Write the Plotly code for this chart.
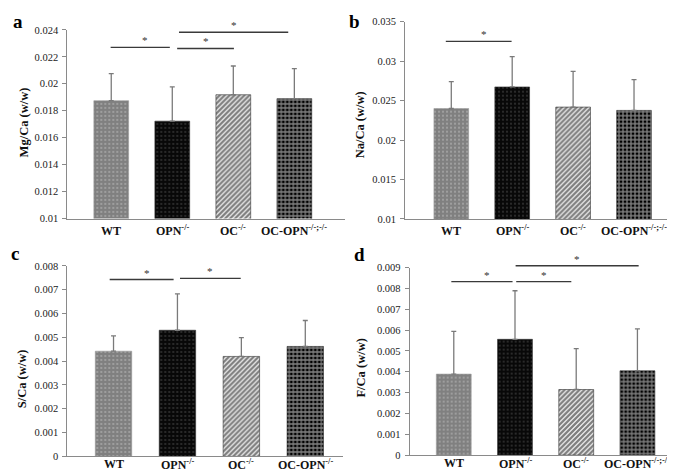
import plotly.graph_objects as go

W, H = 675, 472

categories_a = ["WT", "OPN<sup>-/-</sup>", "OC<sup>-/-</sup>", "OC-OPN<sup>-/-;-/-</sup>"]
categories_c = ["WT", "OPN<sup>-/-</sup>", "OC<sup>-/-</sup>", "OC-OPN<sup>-/-</sup>"]

mg_mean = [0.01875, 0.01723, 0.01919, 0.0189]
mg_sd = [0.0020, 0.00254, 0.00213, 0.00222]
na_mean = [0.0240, 0.02673, 0.02418, 0.02376]
na_sd = [0.0034, 0.00384, 0.00453, 0.0039]
s_mean = [0.00442, 0.0053, 0.0042, 0.00462]
s_sd = [0.00064, 0.00153, 0.00079, 0.00109]
f_mean = [0.00389, 0.00556, 0.00315, 0.00405]
f_sd = [0.00205, 0.00233, 0.00196, 0.00201]

ticks_a = [0.01, 0.012, 0.014, 0.016, 0.018, 0.02, 0.022, 0.024]
ticks_b = [0.01, 0.015, 0.02, 0.025, 0.03, 0.035]
ticks_c = [0, 0.001, 0.002, 0.003, 0.004, 0.005, 0.006, 0.007, 0.008]
ticks_d = [0, 0.001, 0.002, 0.003, 0.004, 0.005, 0.006, 0.007, 0.008, 0.009]

# significance brackets: (x from, x to, y level)
sig_a = [(-0.01, 0.96, 0.0227), (1.08, 2.01, 0.02262), (1.11, 2.9, 0.02383)]
sig_b = [(-0.09, 0.99, 0.0325)]
sig_c = [(-0.06, 0.94, 0.00743), (1.04, 1.99, 0.00748)]
sig_d = [(-0.04, 0.96, 0.00833), (1.02, 1.92, 0.00833), (1.01, 3.02, 0.00909)]

titles = ["Mg/Ca (w/w)", "Na/Ca (w/w)", "S/Ca (w/w)", "F/Ca (w/w)"]
letters = ["a", "b", "c", "d"]

# pixel layout of each panel: left, right, top, bottom
panels = [
    dict(l=59.3, r=337, t=17.3, b=210.5, xr=[-0.72, 3.83], yr=[0.01, 0.024]),
    dict(l=397, r=665, t=8.9, b=210.9, xr=[-0.76, 3.64], yr=[0.01, 0.035]),
    dict(l=59.3, r=335, t=259, b=454, xr=[-0.723, 3.59], yr=[0, 0.008]),
    dict(l=401.7, r=668, t=260.7, b=452.7, xr=[-0.72, 3.63], yr=[0, 0.009]),
]
means = [mg_mean, na_mean, s_mean, f_mean]
sds = [mg_sd, na_sd, s_sd, f_sd]
cats = [categories_a, categories_a, categories_c, categories_a]
tickvals = [ticks_a, ticks_b, ticks_c, ticks_d]
sigs = [sig_a, sig_b, sig_c, sig_d]
title_pos = [(16, 112), (352, 114), (14, 375), (353, 364)]
letter_pos = [(10, 9), (346, 9), (7, 246), (352, 247)]
catlabel_y = [223, 223, 462, 461]

patterns = [
    dict(shape=".", bgcolor="#808080", fgcolor="#d0d0d0", size=4, solidity=0.2),
    dict(shape=".", bgcolor="#080808", fgcolor="#5a5a5a", size=4, solidity=0.22),
    dict(shape="/", bgcolor="white", fgcolor="#000000", size=3.5, solidity=0.68),
    dict(shape="+", bgcolor="#000000", fgcolor="#ffffff", size=4, solidity=0.55),
]

def fmt(v):
    s = ("%.3f" % v).rstrip("0").rstrip(".")
    return s if s else "0"

fig = go.Figure()
layout = dict(width=W, height=H, margin=dict(l=0, r=0, t=0, b=0),
              paper_bgcolor="white", plot_bgcolor="white", showlegend=False,
              font=dict(family="Liberation Serif", color="#222", size=11))
annotations = []
shapes = []

for i, p in enumerate(panels):
    sfx = "" if i == 0 else str(i + 1)
    xa, ya = "x" + sfx, "y" + sfx
    for j in range(4):
        fig.add_trace(go.Bar(
            x=[j], y=[means[i][j]], xaxis=xa, yaxis=ya, width=0.57,
            marker=dict(color=patterns[j]["bgcolor"], pattern=patterns[j],
                        line=dict(width=0.6, color="#9a9a9a" if j == 0 else "#333")),
            error_y=dict(type="data", symmetric=False, array=[sds[i][j]], arrayminus=[0],
                         color="#7a7a7a", thickness=1.3, width=2.5),
        ))
        annotations.append(dict(xref=xa, yref="paper", x=j, y=1 - catlabel_y[i] / H,
                                text="<b>%s</b>" % cats[i][j], showarrow=False,
                                xanchor="center", yanchor="middle",
                                font=dict(family="Liberation Serif", size=12, color="#111")))
    dom_x = [p["l"] / W, p["r"] / W]
    dom_y = [1 - p["b"] / H, 1 - p["t"] / H]
    layout["xaxis" + sfx] = dict(
        domain=dom_x, range=p["xr"], anchor=ya, showticklabels=False,
        showline=True, linecolor="#8a8a8a", linewidth=1, ticks="", showgrid=False,
        zeroline=False, fixedrange=True)
    layout["yaxis" + sfx] = dict(
        domain=dom_y, range=p["yr"], anchor=xa, tickvals=tickvals[i],
        ticktext=[fmt(v) for v in tickvals[i]], showline=True, linecolor="#8a8a8a",
        linewidth=1, ticks="outside", ticklen=4, tickcolor="#8a8a8a", showgrid=False,
        zeroline=False, tickfont=dict(family="Liberation Serif", size=10.5, color="#222"),
        ticklabelstandoff=2, fixedrange=True)
    x0r, x1r = p["xr"]
    y0r, y1r = p["yr"]
    for (x0, x1, yv) in sigs[i]:
        fx0 = (x0 - x0r) / (x1r - x0r)
        fx1 = (x1 - x0r) / (x1r - x0r)
        fy = (yv - y0r) / (y1r - y0r)
        shapes.append(dict(type="line", xref=xa + " domain", yref=ya + " domain",
                           x0=fx0, x1=fx1, y0=fy, y1=fy,
                           line=dict(color="#3a3a3a", width=1.4)))
        annotations.append(dict(xref=xa + " domain", yref=ya + " domain",
                                x=(fx0 + fx1) / 2, y=fy, text="*",
                                showarrow=False, yanchor="bottom", yshift=-1,
                                font=dict(family="Liberation Serif", size=11, color="#333")))
    tx, ty = title_pos[i]
    annotations.append(dict(xref="paper", yref="paper", x=tx / W, y=1 - ty / H,
                            text="<b>%s</b>" % titles[i], textangle=-90, showarrow=False,
                            xanchor="center", yanchor="middle",
                            font=dict(family="Liberation Serif", size=12.5, color="#111")))
    lx, ly = letter_pos[i]
    annotations.append(dict(xref="paper", yref="paper", x=lx / W, y=1 - ly / H,
                            text="<b>%s</b>" % letters[i], showarrow=False,
                            xanchor="center", yanchor="middle",
                            font=dict(family="Liberation Serif", size=19, color="#000")))

layout["annotations"] = annotations
layout["shapes"] = shapes
fig.update_layout(**layout)
fig.write_html("out.html")
